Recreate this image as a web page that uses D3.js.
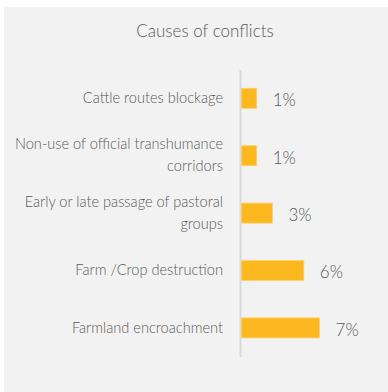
<!DOCTYPE html>
<html>
<head>
<meta charset="utf-8">
<script src="https://cdn.jsdelivr.net/npm/d3@7"></script>
<style>
  html, body { margin: 0; padding: 0; background: #ffffff; }
  svg { display: block; }
  text { font-family: "Lato", "Open Sans", sans-serif; }
</style>
</head>
<body>
<div id="chart"></div>
<script>
// Causes of conflicts — share of reported cases
const title = "Causes of conflicts";
const categories = [
  "Cattle routes blockage",
  "Non-use of official transhumance corridors",
  "Early or late passage of pastoral groups",
  "Farm /Crop destruction",
  "Farmland encroachment"
];
const values = [1.43, 1.43, 2.86, 5.71, 7.14];   // percent

const W = 388, H = 392;
const svg = d3.select("#chart").append("svg")
  .attr("width", W).attr("height", H);

// panel background
svg.append("rect")
  .attr("x", 4).attr("y", 7)
  .attr("width", W - 4).attr("height", H - 7)
  .attr("fill", "#f2f2f2");

svg.append("text")
  .attr("x", 205).attr("y", 37)
  .attr("text-anchor", "middle")
  .attr("fill", "#595959")
  .style("font-size", "17px")
  .style("font-weight", 300)
  .text(title);

const x = d3.scaleLinear().domain([0, 10]).range([241, 351]);
const y = d3.scaleBand().domain(categories)
  .range([69.6, 356.6])
  .paddingInner(0.652).paddingOuter(0.326);

// bars
svg.append("g").selectAll("rect")
  .data(categories)
  .join("rect")
  .attr("x", x(0))
  .attr("y", d => y(d))
  .attr("width", (d, i) => x(values[i]) - x(0))
  .attr("height", y.bandwidth())
  .attr("fill", "#fdb71f")
  .attr("stroke", "#ffcf66")
  .attr("stroke-width", 0.8);

// value labels
const fmt = v => d3.format(".0f")(v) + "%";
svg.append("g").selectAll("text")
  .data(categories)
  .join("text")
  .attr("x", (d, i) => x(values[i]) + 16)
  .attr("y", d => y(d) + y.bandwidth() / 2 + 2)
  .attr("dy", "0.35em")
  .attr("fill", "#595959")
  .style("font-size", "17px")
  .style("font-weight", 300)
  .text((d, i) => fmt(values[i]));

// category axis (left), no ticks
const axis = d3.axisLeft(y).tickSize(0).tickPadding(17);
const gAxis = svg.append("g")
  .attr("transform", `translate(${x(0) - 1},0)`)
  .call(axis);
gAxis.select(".domain").attr("stroke", "#d9d9d9").attr("stroke-width", 2);
gAxis.selectAll(".tick text")
  .attr("fill", "#595959")
  .style("font-size", "14.6px")
  .style("font-weight", 300)
  .style("font-family", "Lato, sans-serif")
  .call(wrap, 214, 22);

function wrap(sel, width, lineH) {
  sel.each(function() {
    const t = d3.select(this);
    const words = t.text().split(/\s+/);
    const xAttr = t.attr("x");
    t.text(null);
    let lines = [[]];
    const probe = t.append("tspan");
    words.forEach(w => {
      const cur = lines[lines.length - 1];
      probe.text(cur.concat(w).join(" "));
      if (cur.length && probe.node().getComputedTextLength() > width) lines.push([w]);
      else cur.push(w);
    });
    probe.remove();
    const n = lines.length;
    lines.forEach((ln, k) => {
      t.append("tspan")
        .attr("x", xAttr)
        .attr("y", 0)
        .attr("dy", ((k - (n - 1) / 2) * lineH + 0.32 * 14.6).toFixed(2) + "px")
        .text(ln.join(" "));
    });
  });
}
</script>
</body>
</html>
